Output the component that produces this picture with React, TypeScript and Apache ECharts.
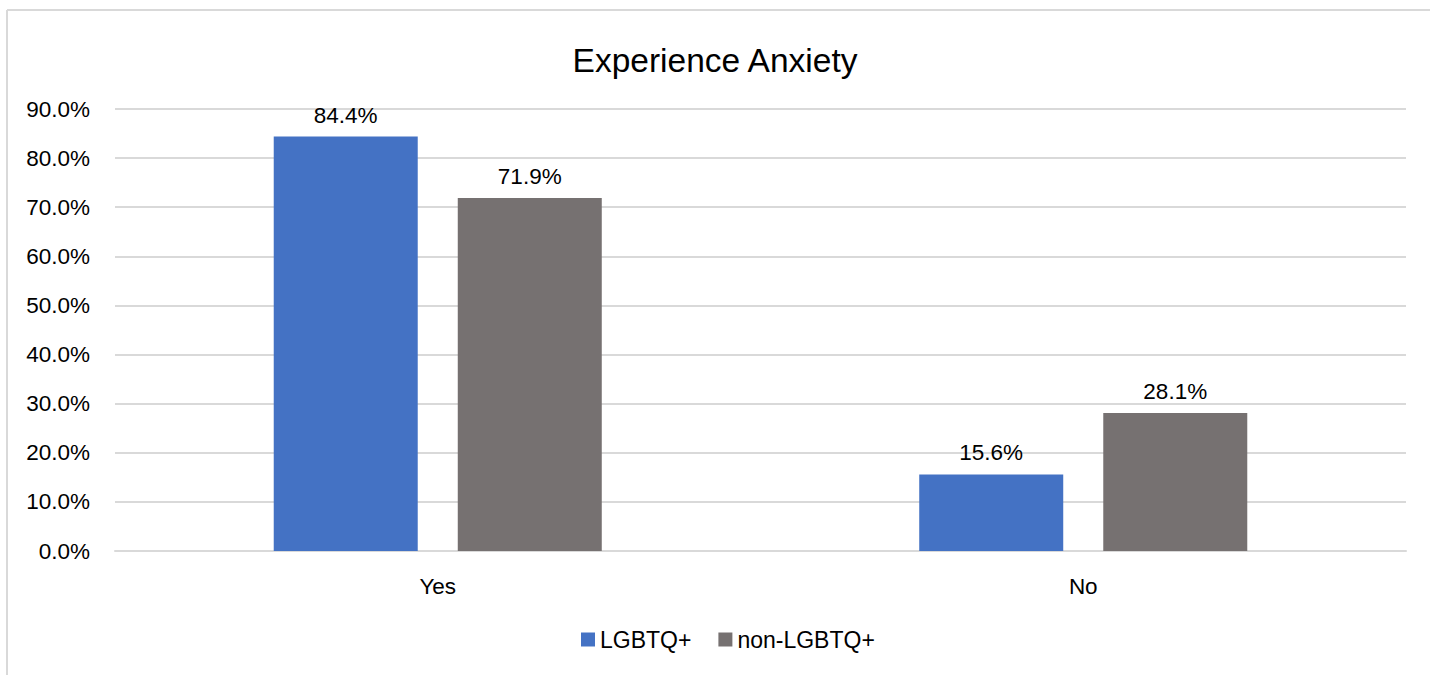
import React, { useEffect, useRef } from "react";
import * as echarts from "echarts";

const categories = ["Yes", "No"];
const lgbtq = [84.4, 15.6];
const nonLgbtq = [71.9, 28.1];
const seriesNames = ["LGBTQ+", "non-LGBTQ+"];
const yTicks = { min: 0, max: 90, interval: 10 };

const FONT = "'Liberation Sans', Arial, sans-serif";
const TEXT = "#000000";
const GRID_LINE = "#D9D9D9";

export default function App() {
  const ref = useRef<HTMLDivElement>(null);

  useEffect(() => {
    if (!ref.current) return;
    const chart = echarts.init(ref.current, undefined, { renderer: "svg" });

    const label = {
      show: true,
      position: "top",
      distance: 10,
      color: TEXT,
      fontFamily: FONT,
      fontSize: 22.5,
      formatter: (p: any) => `${Number(p.value).toFixed(1)}%`,
    };

    chart.setOption({
      animation: false,
      backgroundColor: "#ffffff",
      title: {
        text: "Experience Anxiety",
        left: "center",
        top: 38,
        textStyle: { color: TEXT, fontFamily: FONT, fontSize: 33.5, fontWeight: "normal" },
      },
      legend: {
        bottom: 19,
        left: 576,
        itemWidth: 14,
        itemHeight: 14,
        itemGap: 27,
        icon: "rect",
        textStyle: { color: TEXT, fontFamily: FONT, fontSize: 23 },
        data: seriesNames,
      },
      grid: { left: 115, right: 24, top: 109, bottom: 124 },
      xAxis: {
        type: "category",
        data: categories,
        axisLine: { show: true, lineStyle: { color: GRID_LINE, width: 2 } },
        axisTick: { show: false },
        axisLabel: { color: TEXT, fontFamily: FONT, fontSize: 22.5, margin: 24 },
      },
      yAxis: {
        type: "value",
        min: yTicks.min,
        max: yTicks.max,
        interval: yTicks.interval,
        axisLine: { show: false },
        axisTick: { show: false },
        splitLine: { lineStyle: { color: GRID_LINE, width: 2 } },
        axisLabel: {
          color: TEXT,
          fontFamily: FONT,
          fontSize: 22.5,
          margin: 25,
          formatter: (v: number) => `${v.toFixed(1)}%`,
        },
      },
      series: [
        {
          name: seriesNames[0],
          type: "bar",
          data: lgbtq,
          barWidth: 144,
          barGap: "27.8%",
          itemStyle: { color: "#4472C4" },
          label,
        },
        {
          name: seriesNames[1],
          type: "bar",
          data: nonLgbtq,
          barWidth: 144,
          barGap: "27.8%",
          itemStyle: { color: "#767171" },
          label,
        },
      ],
      graphic: [
        {
          type: "line",
          silent: true,
          shape: { x1: 7, y1: 10, x2: 1430, y2: 10 },
          style: { stroke: GRID_LINE, lineWidth: 2 },
        },
        {
          type: "line",
          silent: true,
          shape: { x1: 7, y1: 10, x2: 7, y2: 675 },
          style: { stroke: GRID_LINE, lineWidth: 2 },
        },
      ],
    });

    return () => chart.dispose();
  }, []);

  return (
    <div
      ref={ref}
      style={{ position: "fixed", left: 0, top: 0, width: 1430, height: 675 }}
    />
  );
}
